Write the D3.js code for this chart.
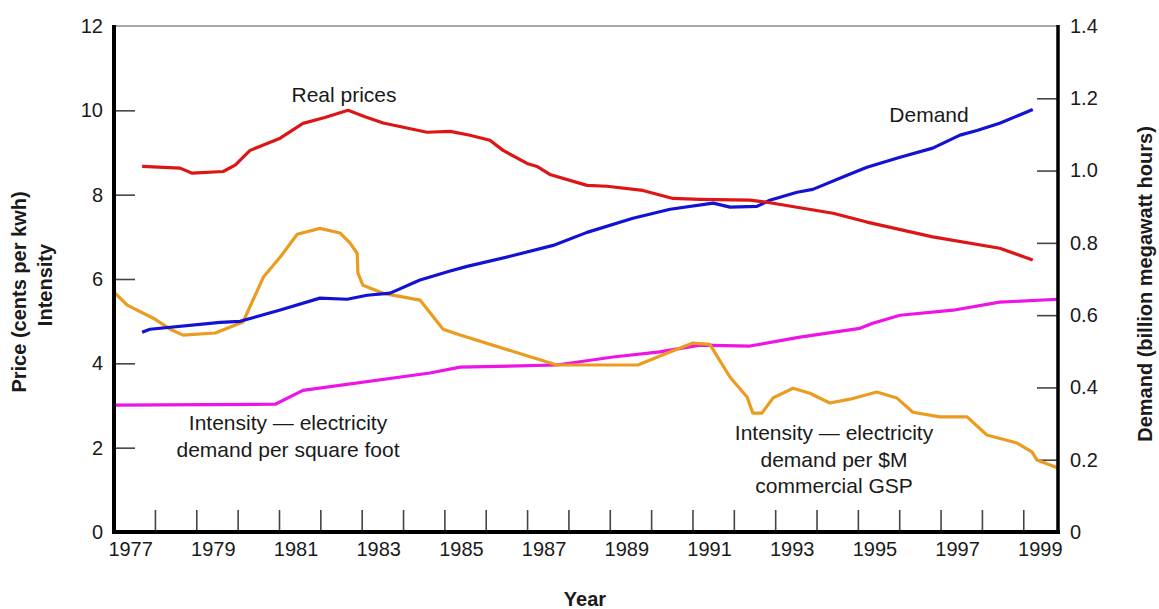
<!DOCTYPE html>
<html>
<head>
<meta charset="utf-8">
<script src="https://cdn.jsdelivr.net/npm/d3@7"></script>
<style>
body { margin: 0; background: #fff; }
svg text { font-family: "Liberation Sans", Arial, sans-serif; fill: #1a1a1a; }
</style>
</head>
<body>
<div id="chart"></div>
<script>
// year labels on the x axis (every other year)
var yearLabels = [1977, 1979, 1981, 1983, 1985, 1987, 1989, 1991, 1993, 1995, 1997, 1999];
// minor year ticks
var yearTicks = [1977, 1978, 1979, 1980, 1981, 1982, 1983, 1984, 1985, 1986, 1987, 1988,
                 1989, 1990, 1991, 1992, 1993, 1994, 1995, 1996, 1997, 1998];
var leftTicks = [0, 2, 4, 6, 8, 10, 12];
var rightTicks = [0, 0.2, 0.4, 0.6, 0.8, 1.0, 1.2, 1.4];

// Real prices (cents per kwh), left axis
var priceData = [
  [1977.29, 8.67], [1978.21, 8.63], [1978.50, 8.51], [1979.25, 8.55], [1979.54, 8.70],
  [1979.90, 9.05], [1980.63, 9.34], [1981.18, 9.69], [1981.71, 9.83], [1982.27, 10.0],
  [1982.68, 9.85], [1983.12, 9.70], [1984.18, 9.48], [1984.74, 9.50], [1985.22, 9.41],
  [1985.70, 9.29], [1986.02, 9.05], [1986.60, 8.74], [1986.84, 8.67], [1987.15, 8.48],
  [1988.05, 8.22], [1988.53, 8.20], [1989.40, 8.10], [1990.13, 7.91], [1990.78, 7.89],
  [1991.99, 7.87], [1992.40, 7.82], [1994.00, 7.56], [1994.82, 7.35], [1996.41, 7.00],
  [1998.03, 6.73], [1998.83, 6.45]
];

// Demand (billion megawatt hours), right axis
var demandData = [
  [1977.29, 0.553], [1977.48, 0.561], [1979.18, 0.580], [1979.66, 0.583], [1980.63, 0.614],
  [1981.59, 0.647], [1982.25, 0.644], [1982.73, 0.655], [1983.29, 0.661], [1984.01, 0.697],
  [1984.74, 0.722], [1985.15, 0.735], [1986.19, 0.763], [1987.23, 0.793], [1988.05, 0.829],
  [1989.16, 0.868], [1990.06, 0.893], [1991.10, 0.910], [1991.51, 0.899], [1992.16, 0.901],
  [1992.47, 0.918], [1993.13, 0.940], [1993.51, 0.948], [1994.34, 0.987], [1994.82, 1.009],
  [1995.62, 1.037], [1996.41, 1.062], [1997.07, 1.098], [1997.48, 1.111], [1998.03, 1.131],
  [1998.83, 1.169]
];

// Intensity - electricity demand per square foot, left axis
var sqftData = [
  [1976.61, 3.01], [1980.51, 3.03], [1981.18, 3.36], [1984.25, 3.77], [1984.98, 3.91],
  [1987.32, 3.96], [1988.68, 4.15], [1989.81, 4.27], [1990.78, 4.43], [1991.99, 4.41],
  [1993.20, 4.62], [1994.65, 4.83], [1994.96, 4.95], [1995.62, 5.14], [1996.90, 5.26],
  [1998.03, 5.45], [1999.44, 5.52]
];

// Intensity - electricity demand per $M commercial GSP, left axis
var gspData = [
  [1976.61, 5.69], [1976.93, 5.38], [1977.56, 5.07], [1977.97, 4.81], [1978.28, 4.67],
  [1979.06, 4.72], [1979.73, 4.98], [1980.22, 6.04], [1980.63, 6.52], [1981.04, 7.06],
  [1981.59, 7.20], [1982.08, 7.09], [1982.32, 6.85], [1982.49, 6.61], [1982.51, 6.14],
  [1982.63, 5.85], [1983.12, 5.66], [1984.01, 5.50], [1984.57, 4.81], [1984.98, 4.67],
  [1987.32, 3.96], [1989.28, 3.96], [1989.98, 4.24], [1990.61, 4.48], [1991.02, 4.45],
  [1991.51, 3.67], [1991.92, 3.20], [1992.06, 2.82], [1992.28, 2.82], [1992.55, 3.18],
  [1993.03, 3.41], [1993.44, 3.29], [1993.92, 3.06], [1994.41, 3.15], [1995.06, 3.32],
  [1995.54, 3.18], [1995.93, 2.84], [1996.58, 2.73], [1997.24, 2.73], [1997.72, 2.30],
  [1998.45, 2.11], [1998.81, 1.90], [1998.93, 1.71], [1999.44, 1.52]
];

var width = 1159, height = 609;
var mLeft = 114, mRight = 1058, mTop = 26, mBottom = 532;

var svg = d3.select("#chart").append("svg")
  .attr("width", width)
  .attr("height", height);

var x = d3.scaleLinear().domain([1976.61, 1999.44]).range([mLeft, mRight]);
var yL = d3.scaleLinear().domain([0, 12]).range([mBottom, mTop]);
var yR = d3.scaleLinear().domain([0, 1.4]).range([mBottom, mTop]);

// top border (thin)
svg.append("line")
  .attr("x1", mLeft).attr("x2", mRight)
  .attr("y1", mTop).attr("y2", mTop)
  .style("stroke", "#555").style("stroke-width", 1);

// left axis
var gl = svg.append("g")
  .attr("transform", "translate(" + mLeft + ",0)")
  .call(d3.axisLeft(yL).tickValues(leftTicks).tickSizeInner(-21).tickSizeOuter(0).tickPadding(11));
// right axis
var gr = svg.append("g")
  .attr("transform", "translate(" + mRight + ",0)")
  .call(d3.axisRight(yR).tickValues(rightTicks)
    .tickFormat(function(d) { return d == 0 ? "0" : d3.format(".1f")(d); })
    .tickSizeInner(-21).tickSizeOuter(0).tickPadding(12));
// x tick marks
var gt = svg.append("g")
  .attr("transform", "translate(0," + mBottom + ")")
  .call(d3.axisBottom(x).tickValues(yearTicks.map(function(d) { return d + 0.6; }))
    .tickFormat("").tickSizeInner(-22).tickSizeOuter(0));
// x labels
var gx = svg.append("g")
  .attr("transform", "translate(0," + mBottom + ")")
  .call(d3.axisBottom(x).tickValues(yearLabels).tickFormat(d3.format("d"))
    .tickSize(0).tickPadding(10));

[gl, gr, gt, gx].forEach(function(g) {
  g.select(".domain").remove();
  g.selectAll(".tick line").style("stroke", "#444").style("stroke-width", 1.6);
  g.selectAll(".tick text").style("font-size", "20px").style("fill", "#1a1a1a")
    .style("font-family", '"Liberation Sans", Arial, sans-serif');
});
gl.selectAll(".tick").filter(function(d) { return d == 0 || d == 12; }).select("line").remove();
gr.selectAll(".tick").filter(function(d) { return d == 0 || d == 1.4; }).select("line").remove();

// series lines
var series = [
  { data: sqftData, scale: yL, color: "#ee14e6" },
  { data: gspData, scale: yL, color: "#eb9b1f" },
  { data: demandData, scale: yR, color: "#1212d4" },
  { data: priceData, scale: yL, color: "#dd1515" }
];
series.forEach(function(s) {
  var line = d3.line()
    .x(function(d) { return x(d[0]); })
    .y(function(d) { return s.scale(d[1]); });
  svg.append("path")
    .datum(s.data)
    .attr("d", line)
    .style("fill", "none")
    .style("stroke", s.color)
    .style("stroke-width", 3.2)
    .style("stroke-linejoin", "round");
});

// thick frame axes
svg.append("line").attr("x1", mLeft).attr("x2", mLeft).attr("y1", mTop - 1).attr("y2", mBottom + 2)
  .style("stroke", "#000").style("stroke-width", 4);
svg.append("line").attr("x1", mRight).attr("x2", mRight).attr("y1", mTop - 1).attr("y2", mBottom + 2)
  .style("stroke", "#000").style("stroke-width", 3.5);
svg.append("line").attr("x1", mLeft - 2).attr("x2", mRight + 2).attr("y1", mBottom).attr("y2", mBottom)
  .style("stroke", "#000").style("stroke-width", 4);

// annotations
var notes = [
  { text: ["Real prices"], x: 344, y: 102 },
  { text: ["Demand"], x: 929, y: 122 },
  { text: ["Intensity \u2014 electricity", "demand per square foot"], x: 288, y: 430 },
  { text: ["Intensity \u2014 electricity", "demand per $M", "commercial GSP"], x: 834, y: 440 }
];
notes.forEach(function(n) {
  n.text.forEach(function(t, i) {
    svg.append("text")
      .attr("x", n.x)
      .attr("y", n.y + i * 26.5)
      .attr("text-anchor", "middle")
      .style("font-size", "21px")
      .text(t);
  });
});

// axis titles
svg.append("text")
  .attr("transform", "translate(26,292) rotate(-90)")
  .attr("text-anchor", "middle")
  .style("font-size", "20px").style("font-weight", "bold")
  .text("Price (cents per kwh)");
svg.append("text")
  .attr("transform", "translate(52,285) rotate(-90)")
  .attr("text-anchor", "middle")
  .style("font-size", "20px").style("font-weight", "bold")
  .text("Intensity");
svg.append("text")
  .attr("transform", "translate(1152,284) rotate(-90)")
  .attr("text-anchor", "middle")
  .style("font-size", "20px").style("font-weight", "bold")
  .text("Demand (billion megawatt hours)");
svg.append("text")
  .attr("x", 585).attr("y", 606)
  .attr("text-anchor", "middle")
  .style("font-size", "20px").style("font-weight", "bold")
  .text("Year");
</script>
</body>
</html>
